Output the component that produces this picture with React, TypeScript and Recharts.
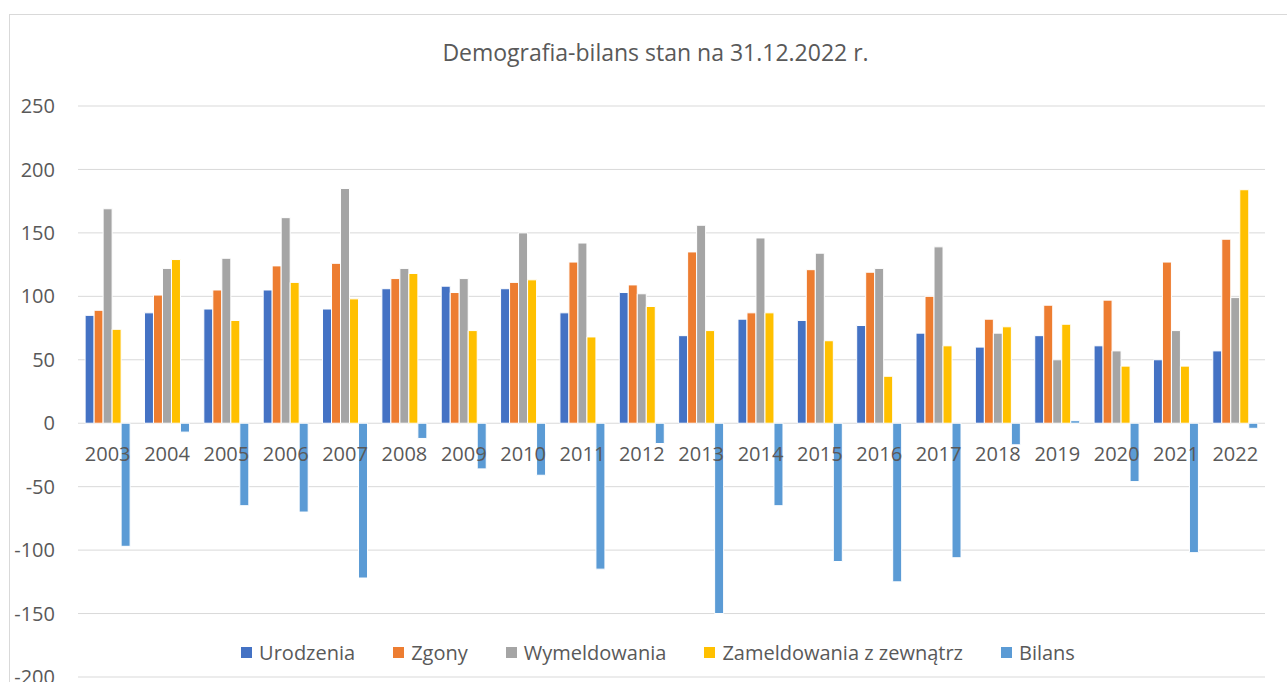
import React from "react"
import { BarChart, Bar, XAxis, YAxis, CartesianGrid, Legend } from "recharts"

const years = ["2003", "2004", "2005", "2006", "2007", "2008", "2009", "2010", "2011", "2012", "2013", "2014", "2015", "2016", "2017", "2018", "2019", "2020", "2021", "2022"]
const urodzenia = [85, 87, 90, 105, 90, 106, 108, 106, 87, 103, 69, 82, 81, 77, 71, 60, 69, 61, 50, 57]
const zgony = [89, 101, 105, 124, 126, 114, 103, 111, 127, 109, 135, 87, 121, 119, 100, 82, 93, 97, 127, 145]
const wymeldowania = [169, 122, 130, 162, 185, 122, 114, 150, 142, 102, 156, 146, 134, 122, 139, 71, 50, 57, 73, 99]
const zameldowania = [74, 129, 81, 111, 98, 118, 73, 113, 68, 92, 73, 87, 65, 37, 61, 76, 78, 45, 45, 184]
const bilans = [-97, -7, -65, -70, -122, -12, -36, -41, -115, -16, -150, -65, -109, -125, -106, -17, 2, -46, -102, -4]
const yTicks = [-200, -150, -100, -50, 0, 50, 100, 150, 200, 250]
const seriesNames = ["Urodzenia", "Zgony", "Wymeldowania", "Zameldowania z zewnątrz", "Bilans"]

const data = years.map((year, i) => ({
  year,
  urodzenia: urodzenia[i],
  zgony: zgony[i],
  wymeldowania: wymeldowania[i],
  zameldowania: zameldowania[i],
  bilans: bilans[i],
}))

const FONT = "'Open Sans', Lato, sans-serif"
const TEXT = "#595959"
const GRID = "#d9d9d9"

const W = 1287
const H = 682
const TOP = 106
const BOTTOM = 4
const X_AXIS_H = 1
// y of the zero line, labels sit just under it like in Excel
const ZERO_Y = TOP + ((H - TOP - BOTTOM - X_AXIS_H) * 250) / 450

function YearTick(props: any) {
  const { x, payload } = props
  return (
    <text x={x} y={ZERO_Y + 31} dy="0.355em" textAnchor="middle" fill={TEXT} fontSize={20} fontFamily={FONT}>
      {payload.value}
    </text>
  )
}

function LegendContent(props: any) {
  const items = [...(props.payload || [])].sort(
    (a: any, b: any) => seriesNames.indexOf(a.value) - seriesNames.indexOf(b.value)
  )
  return (
    <div style={{ display: "flex", justifyContent: "center", alignItems: "center", height: 24 }}>
      {items.map((item: any, i: number) => (
        <div
          key={item.value}
          style={{ display: "flex", alignItems: "center", marginRight: i === items.length - 1 ? 0 : 38 }}
        >
          <span style={{ width: 11, height: 11, background: item.color, display: "inline-block", marginRight: 7 }} />
          <span style={{ color: TEXT, fontSize: 20, fontFamily: FONT }}>{item.value}</span>
        </div>
      ))}
    </div>
  )
}

export default function App() {
  return (
    <div style={{ position: "fixed", left: 0, top: 0, width: W, height: H, overflow: "hidden", background: "#fff" }}>
      <div style={{ position: "absolute", left: 9, top: 14, width: 1400, height: 800, border: `1px solid ${GRID}` }} />
      <div
        style={{
          position: "absolute",
          left: 0,
          top: 39,
          width: 1311,
          textAlign: "center",
          color: TEXT,
          fontSize: 23,
          fontFamily: FONT,
          lineHeight: "26px",
        }}
      >
        Demografia-bilans stan na 31.12.2022 r.
      </div>
      <div style={{ position: "absolute", left: 0, top: 0 }}>
        <BarChart
          width={W}
          height={H}
          data={data}
          margin={{ top: TOP, right: 22, bottom: BOTTOM, left: 0 }}
          barCategoryGap="12%"
          barGap={0}
        >
          <CartesianGrid vertical={false} stroke={GRID} strokeWidth={1} />
          <YAxis
            width={78}
            domain={[-200, 250]}
            ticks={yTicks}
            interval={0}
            axisLine={false}
            tickLine={false}
            tickSize={0}
            tickMargin={23}
            tick={{ fill: TEXT, fontSize: 20, fontFamily: FONT }}
          />
          <XAxis dataKey="year" height={X_AXIS_H} axisLine={false} tickLine={false} interval={0} tick={<YearTick />} />
          <Legend
            layout="horizontal"
            verticalAlign="middle"
            align="center"
            content={<LegendContent />}
            wrapperStyle={{ top: 640, left: 31, width: 1254 }}
          />
          <Bar dataKey="urodzenia" name="Urodzenia" fill="#4472C4" stroke="#fff" strokeWidth={1} isAnimationActive={false} />
          <Bar dataKey="zgony" name="Zgony" fill="#ED7D31" stroke="#fff" strokeWidth={1} isAnimationActive={false} />
          <Bar dataKey="wymeldowania" name="Wymeldowania" fill="#A5A5A5" stroke="#fff" strokeWidth={1} isAnimationActive={false} />
          <Bar dataKey="zameldowania" name="Zameldowania z zewnątrz" fill="#FFC000" stroke="#fff" strokeWidth={1} isAnimationActive={false} />
          <Bar dataKey="bilans" name="Bilans" fill="#5B9BD5" stroke="#fff" strokeWidth={1} isAnimationActive={false} />
        </BarChart>
      </div>
    </div>
  )
}
